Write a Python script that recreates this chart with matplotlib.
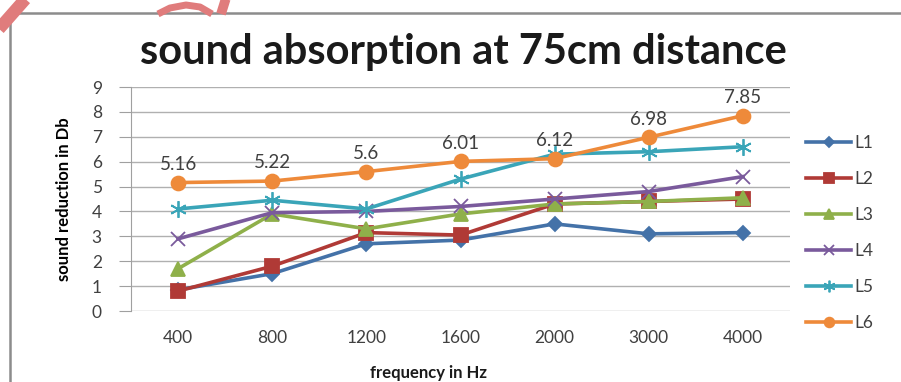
import matplotlib
matplotlib.use("Agg")
import matplotlib.pyplot as plt
from matplotlib.patches import Rectangle
from matplotlib.lines import Line2D

plt.rcParams["font.family"] = ["Lato", "DejaVu Sans"]

# Data
freqs = ["400", "800", "1200", "1600", "2000", "3000", "4000"]
L1 = [0.85, 1.5, 2.7, 2.85, 3.5, 3.1, 3.15]
L2 = [0.8, 1.8, 3.15, 3.05, 4.3, 4.4, 4.5]
L3 = [1.7, 3.9, 3.3, 3.9, 4.3, 4.4, 4.55]
L4 = [2.9, 3.95, 4.0, 4.2, 4.5, 4.8, 5.4]
L5 = [4.1, 4.45, 4.1, 5.3, 6.3, 6.4, 6.6]
L6 = [5.16, 5.22, 5.6, 6.01, 6.12, 6.98, 7.85]

series = [
    ("L1", L1, "#4472a8", "D", 7),
    ("L2", L2, "#b03a36", "s", 10),
    ("L3", L3, "#8fb04a", "^", 10),
    ("L4", L4, "#7a5a9c", "x", 10),
    ("L5", L5, "#3aa5b8", (6, 2, 0), 12),
    ("L6", L6, "#ee8a3a", "o", 10),
]

W, H = 901, 382
fig = plt.figure(figsize=(W / 100, H / 100), dpi=100)


def fx(px):
    return px / W


def fy(py):
    return 1 - py / H


# chart frame
fig.patches.append(Rectangle((fx(10), -0.05), 1.0, fy(13) + 0.05,
                             transform=fig.transFigure, fill=False,
                             edgecolor="#8c8c8c", linewidth=1.8, zorder=0))
# pink watermark bits at the top left
pink = "#e07c7c"
fig.lines.append(Line2D([fx(28), fx(-2)], [fy(-4), fy(30)], transform=fig.transFigure,
                        color=pink, linewidth=9, solid_capstyle="butt", zorder=1))
fig.lines.append(Line2D([fx(158), fx(170), fx(186), fx(200), fx(212)],
                        [fy(14), fy(8), fy(5), fy(7), fy(14)], transform=fig.transFigure,
                        color=pink, linewidth=5, solid_capstyle="butt", zorder=1))
fig.lines.append(Line2D([fx(226), fx(221)], [fy(-2), fy(14)], transform=fig.transFigure,
                        color=pink, linewidth=7, solid_capstyle="butt", zorder=1))

ax = fig.add_axes([fx(131), fy(311), fx(790) - fx(131), fy(87) - fy(311)])
x = list(range(len(freqs)))
for name, vals, col, mk, ms in series:
    ax.plot(x, vals, color=col, marker=mk, markersize=ms, linewidth=2.6,
            markeredgewidth=1.3, label=name)

for xi, v in zip(x, L6):
    ax.annotate(f"{v:g}", (xi, v), xytext=(0, 7), textcoords="offset points",
                ha="center", va="bottom", fontsize=13.5, color="#404040")

ax.set_xlim(-0.5, len(freqs) - 0.5)
ax.set_ylim(0, 9)
ax.set_yticks(range(10))
ax.set_xticks(x)
ax.set_xticklabels(freqs)
ax.grid(axis="y", color="#b0b0b0", linewidth=1)
ax.set_axisbelow(True)
for s in ["top", "right", "bottom"]:
    ax.spines[s].set_visible(False)
ax.spines["left"].set_color("#a0a0a0")
ax.tick_params(axis="x", length=0, pad=14, labelsize=12.5, labelcolor="#404040")
ax.tick_params(axis="y", length=9, color="#a0a0a0", pad=12, labelsize=12.5,
               labelcolor="#404040")
ax.set_ylabel("sound reduction in Db", fontsize=12, fontweight="bold", labelpad=14)

fig.text(fx(428), fy(373), "frequency in Hz", ha="center", va="center",
         fontsize=12, fontweight="bold", color="#1a1a1a")
fig.text(fx(463), fy(52), "sound absorption at 75cm distance",
         ha="center", va="center", fontsize=30, fontweight="bold", color="#1a1a1a")

leg = ax.legend(loc="upper left", bbox_to_anchor=((806 - 131) / 659, (311 - 135) / 224),
                frameon=False, fontsize=12.5, handlelength=2.6, labelspacing=1.15,
                handletextpad=0.2, borderaxespad=0, borderpad=0, markerscale=0.7)
for t in leg.get_texts():
    t.set_color("#404040")

fig.savefig("out.png", dpi=100)
